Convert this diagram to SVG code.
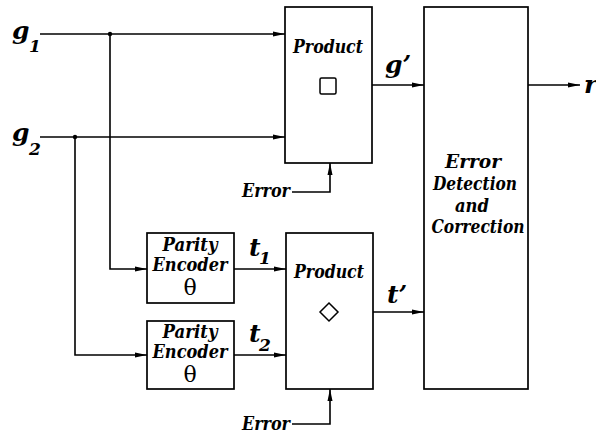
<svg xmlns="http://www.w3.org/2000/svg" width="596" height="436" viewBox="0 0 596 436">
<style>
.box{fill:#fff;stroke:#000;stroke-width:1.7}
.ln{fill:none;stroke:#000;stroke-width:1.6}
.t{font-family:'DejaVu Serif',serif;font-style:italic;font-weight:bold;fill:#000}
.lbl{font-size:18px;text-anchor:middle}
.sym{font-size:25px}
.sub{font-size:17px}
.th{font-family:'DejaVu Serif',serif;font-size:22px;text-anchor:middle;fill:#000}
</style>
<defs>
<marker id="ah" viewBox="0 0 12 6" refX="12" refY="3" markerWidth="12" markerHeight="6" markerUnits="userSpaceOnUse" orient="auto">
<path d="M0,0.5 L12,3 L0,5.5 Z" fill="#000"/>
</marker>
</defs>
<rect width="596" height="436" fill="#fff"/>
<g id="connectors">
<path class="ln" d="M40,34 H285" marker-end="url(#ah)"/>
<path class="ln" d="M40,137 H285" marker-end="url(#ah)"/>
<path class="ln" d="M110,34 V269 H147" marker-end="url(#ah)"/>
<path class="ln" d="M75,137 V355 H147" marker-end="url(#ah)"/>
<circle cx="110" cy="34" r="2.2"/>
<circle cx="75" cy="137" r="2.2"/>
<path class="ln" d="M234,269 H286" marker-end="url(#ah)"/>
<path class="ln" d="M234,355 H286" marker-end="url(#ah)"/>
<path class="ln" d="M372,85 H424" marker-end="url(#ah)"/>
<path class="ln" d="M373,312 H424" marker-end="url(#ah)"/>
<path class="ln" d="M528,85 H580" marker-end="url(#ah)"/>
<path class="ln" d="M292,192 H330 V163" marker-end="url(#ah)"/>
<path class="ln" d="M292,424 H330 V389" marker-end="url(#ah)"/>
</g>
<g id="inputs">
<text class="t sym" x="12" y="39">g</text><text class="t sub" x="29" y="52">1</text>
<text class="t sym" x="12" y="141">g</text><text class="t sub" x="29" y="155">2</text>
</g>
<g id="product1">
<rect class="box" x="285" y="7" width="87" height="156"/>
<text class="t lbl" x="328" y="53" textLength="70" lengthAdjust="spacingAndGlyphs">Product</text>
<rect x="320" y="78" width="16" height="16" rx="1.5" fill="none" stroke="#000" stroke-width="1.5"/>
</g>
<g id="product2">
<rect class="box" x="286" y="233" width="87" height="156"/>
<text class="t lbl" x="329" y="278" textLength="70" lengthAdjust="spacingAndGlyphs">Product</text>
<path d="M329,303 L338,312 L329,321 L320,312 Z" fill="none" stroke="#000" stroke-width="1.5"/>
</g>
<g id="edc">
<rect class="box" x="424" y="7" width="104" height="382"/>
<text class="t lbl" x="473" y="168" textLength="56" lengthAdjust="spacingAndGlyphs">Error</text>
<text class="t lbl" x="475" y="190" textLength="84" lengthAdjust="spacingAndGlyphs">Detection</text>
<text class="t lbl" x="472" y="212" textLength="34" lengthAdjust="spacingAndGlyphs">and</text>
<text class="t lbl" x="478" y="233" textLength="93" lengthAdjust="spacingAndGlyphs">Correction</text>
</g>
<g id="parity1">
<rect class="box" x="147" y="233" width="87" height="70"/>
<text class="t lbl" x="190" y="251" textLength="55" lengthAdjust="spacingAndGlyphs">Parity</text>
<text class="t lbl" x="190" y="271" textLength="75" lengthAdjust="spacingAndGlyphs">Encoder</text>
<text class="th" x="190" y="295">θ</text>
</g>
<g id="parity2">
<rect class="box" x="147" y="321" width="87" height="68"/>
<text class="t lbl" x="190" y="338" textLength="55" lengthAdjust="spacingAndGlyphs">Parity</text>
<text class="t lbl" x="190" y="358" textLength="75" lengthAdjust="spacingAndGlyphs">Encoder</text>
<text class="th" x="190" y="382">θ</text>
</g>
<g id="labels">
<text class="t sym" x="385" y="73">g’</text>
<text class="t sym" x="387" y="303">t’</text>
<text class="t sym" x="249" y="256">t</text><text class="t sub" x="259" y="264">1</text>
<text class="t sym" x="249" y="342">t</text><text class="t sub" x="259" y="351">2</text>
<text class="t sym" x="584" y="93">r</text>
<text class="t lbl" x="266" y="197" textLength="48" lengthAdjust="spacingAndGlyphs">Error</text>
<text class="t lbl" x="266" y="430" textLength="48" lengthAdjust="spacingAndGlyphs">Error</text>
</g>
</svg>
